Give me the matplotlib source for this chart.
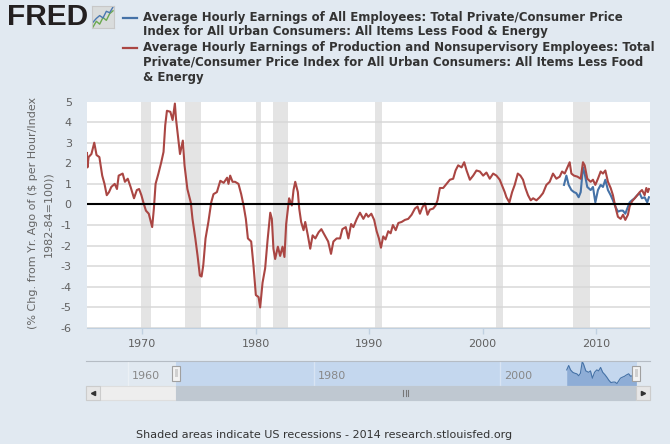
"""
FRED chart: real average hourly earnings, % change from a year ago
"""
import matplotlib
matplotlib.use("Agg")
import matplotlib.pyplot as plt
from matplotlib.patches import Rectangle

# ---- data ----
red_years = [1965.16, 1965.2, 1965.3, 1965.55, 1965.8, 1966.0, 1966.25, 1966.5, 1966.7, 1966.9,
             1967.1, 1967.3, 1967.6, 1967.8, 1967.95, 1968.3, 1968.5, 1968.75, 1969.0, 1969.3,
             1969.55, 1969.75, 1969.95, 1970.15, 1970.35, 1970.6, 1970.9, 1971.05, 1971.2, 1971.45,
             1971.7, 1971.9, 1972.05, 1972.2, 1972.5, 1972.7, 1972.9, 1973.0, 1973.35, 1973.6,
             1973.75, 1974.0, 1974.3, 1974.45, 1974.7, 1974.9, 1975.1, 1975.25, 1975.4, 1975.6,
             1975.85, 1976.1, 1976.3, 1976.6, 1976.9, 1977.2, 1977.5, 1977.62, 1977.77, 1977.98,
             1978.2, 1978.5, 1978.74, 1978.95, 1979.15, 1979.33, 1979.62, 1979.82, 1980.03, 1980.27,
             1980.41, 1980.62, 1980.85, 1981.06, 1981.3, 1981.44, 1981.58, 1981.73, 1981.97, 1982.17,
             1982.38, 1982.55, 1982.7, 1982.96, 1983.2, 1983.35, 1983.5, 1983.73, 1983.85, 1984.02,
             1984.23, 1984.38, 1984.61, 1984.82, 1985.03, 1985.27, 1985.56, 1985.8, 1986.1, 1986.4,
             1986.65, 1986.86, 1987.15, 1987.45, 1987.65, 1987.95, 1988.18, 1988.42, 1988.62, 1988.92,
             1989.2, 1989.5, 1989.75, 1989.93, 1990.2, 1990.45, 1990.67, 1990.87, 1991.05, 1991.25,
             1991.45, 1991.69, 1991.9, 1992.1, 1992.35, 1992.58, 1992.87, 1993.16, 1993.45, 1993.75,
             1994.04, 1994.27, 1994.48, 1994.69, 1994.92, 1995.15, 1995.36, 1995.65, 1995.86, 1996.03,
             1996.24, 1996.53, 1996.82, 1997.12, 1997.41, 1997.62, 1997.85, 1998.15, 1998.38, 1998.59,
             1998.88, 1999.17, 1999.46, 1999.76, 2000.05, 2000.34, 2000.63, 2000.93, 2001.22, 2001.51,
             2001.8, 2001.95, 2002.1, 2002.36, 2002.6, 2002.83, 2003.1, 2003.33, 2003.56, 2003.77,
             2004.0, 2004.24, 2004.45, 2004.74, 2005.03, 2005.32, 2005.62, 2005.91, 2006.2, 2006.5,
             2006.79, 2007.0, 2007.23, 2007.47, 2007.67, 2007.82, 2008.05, 2008.35, 2008.64, 2008.84,
             2008.99, 2009.22, 2009.52, 2009.72, 2009.93, 2010.16, 2010.4, 2010.6, 2010.81, 2011.04,
             2011.28, 2011.48, 2011.63, 2011.78, 2011.92, 2012.16, 2012.37, 2012.57, 2012.8, 2012.95,
             2013.16, 2013.4, 2013.63, 2013.84, 2014.04, 2014.27, 2014.42, 2014.56, 2014.65]
red_values = [2.5, 1.8, 2.3, 2.45, 3.0, 2.4, 2.3, 1.4, 1.0, 0.45,
              0.6, 0.85, 1.0, 0.75, 1.4, 1.5, 1.1, 1.25, 0.85, 0.3,
              0.7, 0.75, 0.45, 0.05, -0.3, -0.45, -1.1, -0.2, 1.0, 1.5,
              2.05, 2.55, 3.85, 4.55, 4.5, 4.1, 4.9, 4.15, 2.45, 3.1,
              1.9, 0.75, 0.1, -0.7, -1.65, -2.5, -3.45, -3.5, -2.95, -1.65,
              -0.85, 0.1, 0.5, 0.6, 1.15, 1.05, 1.3, 1.0, 1.4, 1.1,
              1.1, 1.0, 0.5, -0.05, -0.7, -1.65, -1.8, -2.95, -4.4, -4.5,
              -5.0, -3.8, -3.1, -1.75, -0.4, -0.7, -2.15, -2.65, -2.05, -2.5,
              -2.05, -2.55, -0.95, 0.3, -0.05, 0.7, 1.1, 0.6, -0.2, -0.85,
              -1.25, -0.85, -1.5, -2.15, -1.5, -1.65, -1.35, -1.2, -1.5, -1.8,
              -2.4, -1.8, -1.65, -1.65, -1.2, -1.1, -1.65, -0.95, -1.1, -0.7,
              -0.4, -0.7, -0.45, -0.6, -0.45, -0.75, -1.3, -1.65, -2.1, -1.55,
              -1.7, -1.3, -1.4, -1.0, -1.25, -0.9, -0.85, -0.75, -0.7, -0.5,
              -0.2, -0.1, -0.45, -0.15, 0.05, -0.5, -0.25, -0.2, -0.05, 0.2,
              0.8, 0.8, 1.0, 1.2, 1.25, 1.65, 1.9, 1.8, 2.05, 1.65,
              1.2, 1.4, 1.65, 1.6, 1.4, 1.55, 1.25, 1.5, 1.4, 1.2,
              0.8, 0.6, 0.35, 0.1, 0.6, 0.95, 1.5, 1.4, 1.2, 0.8,
              0.45, 0.2, 0.3, 0.2, 0.35, 0.55, 0.95, 1.1, 1.5, 1.25,
              1.35, 1.6, 1.5, 1.8, 2.05, 1.5, 1.4, 1.35, 1.25, 2.05,
              1.9, 1.25, 1.1, 1.2, 0.95, 1.25, 1.6, 1.5, 1.65, 1.1,
              0.8, 0.45, 0.05, -0.3, -0.6, -0.7, -0.5, -0.75, -0.5, -0.1,
              0.15, 0.3, 0.45, 0.6, 0.7, 0.45, 0.8, 0.6, 0.75]

blue_years = [2007.17, 2007.38, 2007.58, 2007.82, 2008.05, 2008.25, 2008.46, 2008.64, 2008.84, 2008.99,
              2009.22, 2009.52, 2009.72, 2009.93, 2010.16, 2010.4, 2010.6, 2010.81, 2011.04, 2011.28,
              2011.48, 2011.69, 2011.92, 2012.16, 2012.36, 2012.57, 2012.74, 2012.95, 2013.15, 2013.39,
              2013.62, 2013.83, 2014.03, 2014.27, 2014.5, 2014.65]
blue_values = [0.95, 1.4, 0.95, 0.7, 0.6, 0.55, 0.35, 0.6, 1.8, 1.5,
               0.85, 0.7, 0.85, 0.1, 0.7, 0.95, 0.85, 1.2, 0.7, 0.45,
               0.2, -0.1, -0.35, -0.3, -0.3, -0.45, -0.2, 0.1, 0.2, 0.3,
               0.45, 0.55, 0.3, 0.35, 0.1, 0.35]

recession_starts = [1969.92, 1973.83, 1980.0, 1981.5, 1990.5, 2001.17, 2007.92]
recession_ends = [1970.83, 1975.17, 1980.5, 1982.83, 1991.17, 2001.83, 2009.42]

y_ticks = [-6, -5, -4, -3, -2, -1, 0, 1, 2, 3, 4, 5]
x_ticks = [1970, 1980, 1990, 2000, 2010]
nav_ticks = [1960, 1980, 2000]

legend_lines = ["Average Hourly Earnings of All Employees: Total Private/Consumer Price",
                "Index for All Urban Consumers: All Items Less Food & Energy",
                "Average Hourly Earnings of Production and Nonsupervisory Employees: Total",
                "Private/Consumer Price Index for All Urban Consumers: All Items Less Food",
                "& Energy"]
ylabel_lines = ["(% Chg. from Yr. Ago of ($ per Hour/Index", "1982-84=100))"]
footer = "Shaded areas indicate US recessions - 2014 research.stlouisfed.org"

# little icon next to the logo
icon_x = [0, 1, 2, 3, 4, 5, 6]
icon_green = [1.0, 2.2, 1.6, 3.0, 2.4, 3.8, 4.4]
icon_blue = [2.0, 2.8, 3.4, 2.9, 4.3, 4.0, 5.2]

BG = "#e1e9f1"
RED = "#aa4643"
BLUE = "#4572a7"
W, H = 670, 444


def fx(px):
    return px / W


def fy(py):
    return 1 - py / H


fig = plt.figure(figsize=(6.7, 4.44), dpi=100, facecolor=BG)

# ---- main plot ----
ax = fig.add_axes([fx(87), fy(328), fx(649.5) - fx(87), fy(101.5) - fy(328)])
ax.set_facecolor("white")
for s, e in zip(recession_starts, recession_ends):
    ax.axvspan(s, e, color="#e4e4e4", lw=0, zorder=0.2)
ax.set_axisbelow(True)
ax.grid(axis="y", color="#d8d8d8", lw=1.1)
ax.plot(blue_years, blue_values, color=BLUE, lw=1.5, zorder=3)
ax.plot(red_years, red_values, color=RED, lw=1.5, zorder=3.2)
ax.axhline(0, color="black", lw=1.5, zorder=4)

ax.set_xlim(1965.16, 2014.7)
ax.set_ylim(-6, 5)
ax.set_yticks(y_ticks)
ax.set_yticklabels([str(v) for v in y_ticks])
ax.set_xticks(x_ticks)
ax.set_xticklabels([str(v) for v in x_ticks])
for side in ["top", "left", "right"]:
    ax.spines[side].set_visible(False)
ax.spines["bottom"].set_color("#c0d0e0")
ax.tick_params(axis="y", length=0, pad=11, labelsize=8, labelcolor="#606060")
ax.tick_params(axis="x", length=4, width=1, color="#c0d0e0", pad=4,
               labelsize=8, labelcolor="#606060")

# y axis title, two rotated lines
fig.text(fx(33), fy(212.5), ylabel_lines[0], rotation=90, ha="center", va="center",
         fontsize=8, color="#666666")
fig.text(fx(48.5), fy(214), ylabel_lines[1], rotation=90, ha="center", va="center",
         fontsize=8, color="#666666")

# ---- header: logo + legend ----
fig.text(fx(7), fy(17), "FRED", fontsize=21.5, fontweight="bold", family="Liberation Sans",
         color="#231f20", ha="left", va="center")
icon = fig.add_axes([fx(92), fy(28), fx(22), fy(0) - fy(22)])
icon.set_facecolor("#d9dcdc")
icon.plot(icon_x, icon_green, color="#6aa84f", lw=1)
icon.plot(icon_x, icon_blue, color="#4a78b0", lw=1)
icon.set_xticks([])
icon.set_yticks([])
for sp in icon.spines.values():
    sp.set_color("#c8c8c8")

fig.add_artist(plt.Line2D([fx(123), fx(137)], [fy(18), fy(18)], color=BLUE, lw=1.6))
fig.add_artist(plt.Line2D([fx(123), fx(137)], [fy(48), fy(48)], color=RED, lw=1.6))
for i, line in enumerate(legend_lines):
    fig.text(fx(143), fy(17 + 15 * i), line, fontsize=8.5, fontweight="bold",
             color="#333333", ha="left", va="center")

# ---- navigator ----
nav = fig.add_axes([fx(85.5), fy(385.7), fx(649.6) - fx(85.5), fy(361) - fy(385.7)])
nav.set_facecolor(BG)
nav.set_xlim(1955.43, 2016.08)
nav.set_ylim(min(blue_values) - 0.22, max(blue_values) + 0.06)
nav.axvspan(1965.16, 2014.7, color="#c4d7ee", lw=0, zorder=0.5)
for t in nav_ticks:
    nav.axvline(t, color="white", alpha=0.35, lw=1, zorder=0.6)
    nav.text(t + 0.4, 0.4, str(t), transform=nav.get_xaxis_transform(),
             fontsize=8, color="#888888", ha="left", va="center")
nav.fill_between(blue_years, blue_values, nav.get_ylim()[0], color="#8eadd6", lw=0, zorder=1)
nav.plot(blue_years, blue_values, color=BLUE, lw=0.8, zorder=2)
nav.set_xticks([])
nav.set_yticks([])
for side in ["left", "right", "bottom"]:
    nav.spines[side].set_visible(False)
nav.spines["top"].set_color("#b5bcc4")

# navigator handles
for hx in [176, 636]:
    fig.add_artist(Rectangle((fx(hx - 4), fy(380.5)), fx(8), fy(0) - fy(15),
                             facecolor="#f2f2f2", edgecolor="#a0a0a0", lw=0.8,
                             transform=fig.transFigure, zorder=5))
    fig.add_artist(Rectangle((fx(hx - 1.5), fy(377)), fx(3), fy(0) - fy(8),
                             facecolor="#d0d0d0", edgecolor="none",
                             transform=fig.transFigure, zorder=6))

# scrollbar
fig.add_artist(Rectangle((fx(85.5), fy(400)), fx(564), fy(0) - fy(14.3),
                         facecolor="#eeeeee", edgecolor="#dedede", lw=0.8,
                         transform=fig.transFigure))
fig.add_artist(Rectangle((fx(176), fy(400)), fx(459.5), fy(0) - fy(14.3),
                         facecolor="#bfc8d1", edgecolor="#bfc8d1", lw=0.8,
                         transform=fig.transFigure))
for bx in [85.5, 635.5]:
    fig.add_artist(Rectangle((fx(bx), fy(400)), fx(14.5), fy(0) - fy(14.3),
                             facecolor="#e6e6e6", edgecolor="#cccccc", lw=0.8,
                             transform=fig.transFigure))
fig.add_artist(plt.Line2D([fx(93)], [fy(393)], marker="<", markersize=3, color="#333333",
                          transform=fig.transFigure))
fig.add_artist(plt.Line2D([fx(642.5)], [fy(393)], marker=">", markersize=3, color="#333333",
                          transform=fig.transFigure))
for gx in [403, 405.5, 408]:
    fig.add_artist(plt.Line2D([fx(gx), fx(gx)], [fy(389.5), fy(396)], color="#777777",
                              lw=0.8, transform=fig.transFigure))

# ---- footer ----
fig.text(fx(324), fy(435), footer, fontsize=8, color="#333333", ha="center", va="center")

fig.savefig("out.png", dpi=100, facecolor=BG)
